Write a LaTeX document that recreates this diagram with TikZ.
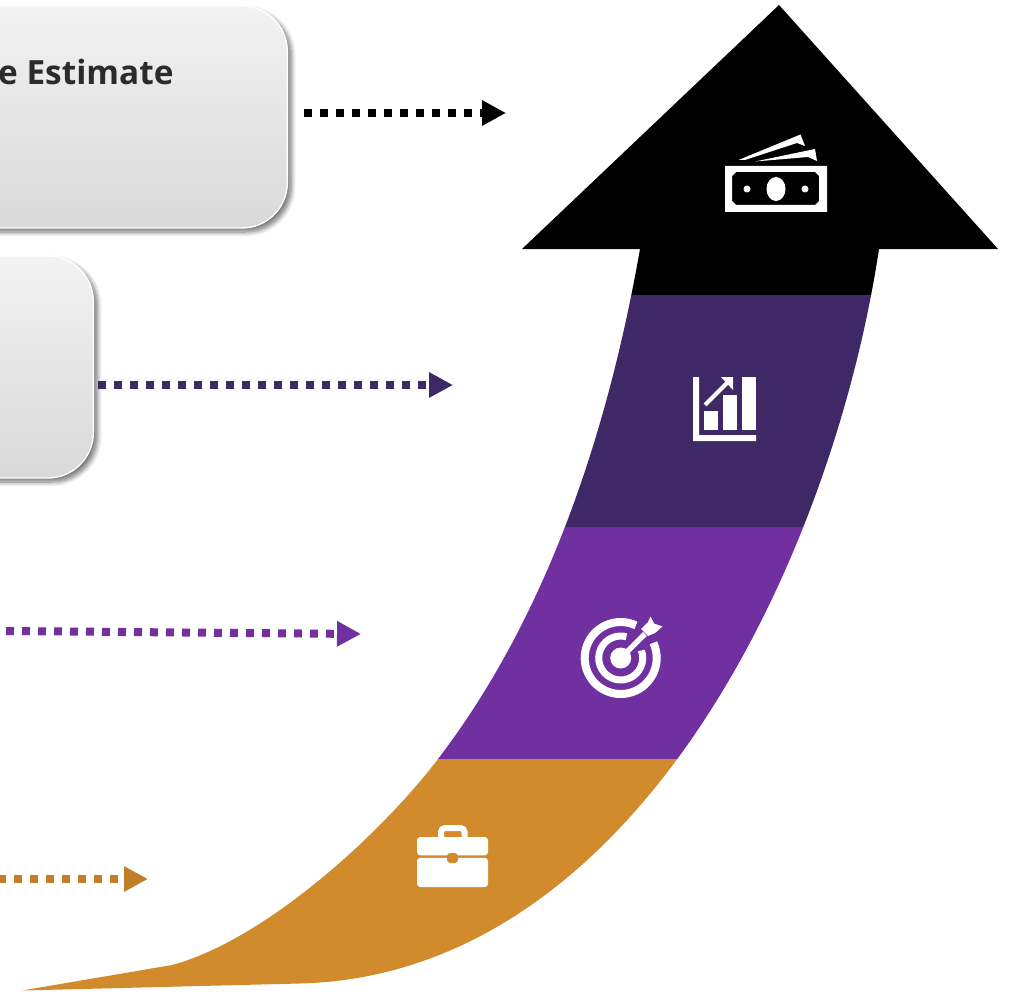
\documentclass[tikz,border=0pt]{standalone}
\usepackage{fontspec}
\setmainfont{Open Sans}
\usetikzlibrary{arrows.meta,shadows,shadows.blur}

\definecolor{gold}{HTML}{D18B2C}
\definecolor{darkgold}{HTML}{C17F2B}
\definecolor{violet}{HTML}{7030A0}
\definecolor{plum}{HTML}{3F2866}
\definecolor{inkgrey}{HTML}{2B2B2B}

\tikzset{every picture/.style={line width=0.75pt}}
\tikzset{
  panel/.style={draw=white,line width=1pt,rounded corners=34pt,anchor=east,top color=black!5,bottom color=black!15,
    blur shadow={shadow xshift=3pt,shadow yshift=-3pt,shadow blur steps=8,shadow blur radius=3.5pt,shadow opacity=55}},
  dotline/.style={line width=#1,dash pattern=on 6pt off 6pt},
  dotline/.default=6pt,
  tipline/.style={-{Triangle[length=18pt,width=18pt]}},
  icon/.style={fill=white,draw=none},
  iconline/.style={draw=white,fill=none}
}

\begin{document}
\begin{tikzpicture}[x=0.75pt,y=0.75pt,yscale=-1,xscale=1]
    \useasboundingbox (0,0) rectangle (1012,991);

    %Shape: Rounded panels
    \node (panelA) [panel,minimum width=450pt,minimum height=166.5pt] at (288,117) {};
    \node (panelB) [panel,minimum width=450pt,minimum height=166.5pt] at (94,367) {};
    % Text Node
    \node (estimate) [anchor=base east,inner sep=0pt,text=inkgrey,font=\fontsize{25}{30}\selectfont\bfseries] at (174,85) {e Estimate};

    %Shape: Big arrow, one band at a time
    \begin{scope}
    \clip (640,249) .. controls (610,420) and (552,610) .. (438,759) .. controls (381,834) and (265,940) .. (172,965) -- (22,990.5) -- (300,983.5) .. controls (636,975) and (832,560) .. (879,249) -- (998,249) -- (779,5) -- (522,249) -- cycle;
    \fill[black] (500,0) rectangle (1012,295);
    \fill[plum] (500,295) rectangle (1012,527);
    \fill[violet] (400,527) rectangle (1012,759);
    \fill[gold] (0,759) rectangle (1012,991);
    \end{scope}

    %Shape: Dotted connectors
    \coordinate (startA) at (304,113);
    \coordinate (endA) at (506,113);
    \coordinate (startB) at (98,385);
    \coordinate (endB) at (453,385);
    \coordinate (startC) at (6,631);
    \coordinate (endC) at (361,634);
    \coordinate (startD) at (-2,879);
    \coordinate (endD) at (148,879);
    \draw[dotline,tipline,black] (startA) -- (endA);
    \draw[dotline,tipline,plum] (startB) -- (endB);
    \draw[dotline,tipline,violet] (startC) -- (endC);
    \draw[dotline,tipline,darkgold] (startD) -- (endD);

    %Shape: Banknotes icon
    \fill[icon] (738.5,160) -- (800.5,134.5) -- (805,146) -- (797,143) -- (745,160) -- cycle;
    \fill[icon] (755,161.5) -- (815,149) -- (817,161) -- (808,157) -- cycle;
    \fill[icon,even odd rule] (725,166) rectangle (827,212)
      (736,172) -- (815,172) -- (819,176) -- (819,201) -- (815,205) -- (736,205) -- (732,201) -- (732,176) -- cycle;
    \fill[icon] (776,189) ellipse (9.5 and 12);
    \fill[icon] (747,189) circle (3.5);
    \fill[icon] (805,189) circle (3.5);

    %Shape: Bar chart icon
    \fill[icon] (693,377) -- (699,377) -- (699,435) -- (756,435) -- (756,441) -- (693,441) -- cycle;
    \fill[icon] (704,411) rectangle (718,430);
    \fill[icon] (723,395) rectangle (737,430);
    \fill[icon] (742,377) rectangle (756,430);
    \draw[iconline,line width=3pt] (705,405) -- (729,381);
    \fill[icon] (721,377) -- (733,377) -- (733,390) -- cycle;

    %Shape: Target icon
    \fill[icon] (620.7,658) circle (10.5);
    \draw[iconline,line width=6pt] (620.7,658) ++(-25:36) arc (-25:295:36) ;
    \draw[iconline,line width=5.25pt] (620.7,658) ++(-20:22) arc (-20:285:22) ;
    \draw[iconline,line width=4pt] (620.7,658) -- (645,634);
    \fill[icon] (650.5,616.5) -- (654,623.5) -- (662.5,626.5) -- (655,633) -- (648,636) -- (641,629) -- (648,622) -- cycle;

    %Shape: Briefcase icon
    \draw[iconline,line width=4.5pt,rounded corners=3pt] (441,838) -- (441,828) -- (464.5,828) -- (464.5,838);
    \fill[icon,rounded corners=2.5pt] (417,837) rectangle (488,855.3);
    \fill[icon,rounded corners=2.5pt] (417,857.8) rectangle (488,887);
    \fill[gold,rounded corners=2.5pt] (447,853) rectangle (458,863);
\end{tikzpicture}
\end{document}
